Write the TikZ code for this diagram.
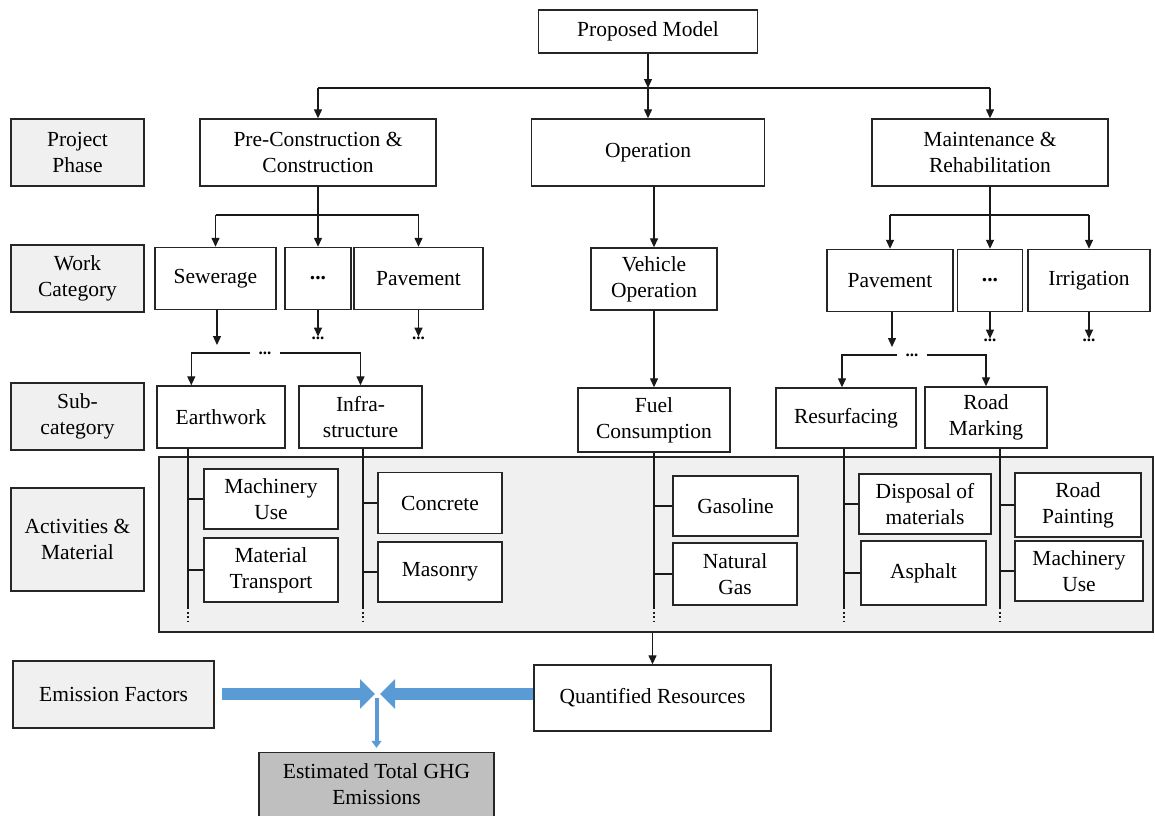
\documentclass[tikz,border=0pt]{standalone}
\usepackage{fontspec}
\setmainfont{Liberation Serif}
\usetikzlibrary{arrows.meta,positioning,calc}
\definecolor{boxgray}{RGB}{240,240,240}
\definecolor{boxdark}{RGB}{191,191,191}
\definecolor{flowblue}{RGB}{91,155,213}

\begin{document}
\begin{tikzpicture}[x=1pt, y=-1pt,
  box/.style={draw=black!85, line width=1.4pt, fill=white, align=center, inner sep=2pt, font=\fontsize{21.5}{26}\selectfont},
  lbl/.style={box, fill=boxgray},
  sz/.style 2 args={minimum width=#1pt, minimum height=#2pt},
  ln/.style={line width=1.3pt, draw=black!90},
  arr/.style={ln, -{Triangle[length=9pt,width=8pt]}},
  dotmark/.style={font=\fontsize{17}{17}\selectfont\bfseries, inner sep=0pt},
  fatarrow/.style={line width=12pt, draw=flowblue, -{Triangle[length=15pt,width=29pt]}},
  thinarrow/.style={line width=4pt, draw=flowblue, -{Triangle[length=7pt,width=10pt]}},
]
\useasboundingbox (0,0) rectangle (1155,815);

% row labels
\node[lbl, sz={133}{67}] (rphase) at (77.5,152.5) {Project\\Phase};
\node[lbl, sz={133}{67}] (rwork) at (77.5,278.5) {Work\\Category};
\node[lbl, sz={133}{67}] (rsub) at (77.5,416.5) {Sub-\\category};
\node[lbl, sz={133}{103}] (ract) at (77.5,539.5) {Activities \&\\Material};

% phases
\node[box, sz={219}{43}] (pm) at (648,31.5) {Proposed Model};
\node[box, sz={236}{67}] (pc) at (318,152.5) {Pre-Construction \&\\Construction};
\node[box, sz={233}{67}] (op) at (648,152.5) {Operation};
\node[box, sz={236}{67}] (mr) at (990,152.5) {Maintenance \&\\Rehabilitation};
\coordinate (top) at (648,88);
\draw[arr] (pm.south) -- (top);
\draw[ln] (pc.north |- top) -- (mr.north |- top);
\foreach \n in {pc,op,mr} \draw[arr] (\n.north |- top) -- (\n.north);

% work categories
\node[box, sz={121}{62}] (sew) at (215.5,278.5) {Sewerage};
\node[box, sz={66}{62}] (d1) at (318,278.5) {\textbf{...}};
\node[box, sz={129}{62}] (pav) at (418.5,278.5) {Pavement};
\node[box, sz={126}{62}] (veh) at (654,279) {Vehicle\\Operation};
\node[box, sz={126}{62}] (mpav) at (890,280.5) {Pavement};
\node[box, sz={65}{62}] (md) at (990,280.5) {\textbf{...}};
\node[box, sz={122}{62}] (irr) at (1089,280.5) {Irrigation};
\coordinate (pcj) at (318,215);
\coordinate (mrj) at (990,215);
\draw[ln] (pc.south) -- (pcj);
\draw[ln] (sew.north |- pcj) -- (pav.north |- pcj);
\foreach \n in {sew,d1,pav} \draw[arr] (\n.north |- pcj) -- (\n.north);
\draw[ln] (mr.south) -- (mrj);
\draw[ln] (mpav.north |- mrj) -- (irr.north |- mrj);
\foreach \n in {mpav,md,irr} \draw[arr] (\n.north |- mrj) -- (\n.north);
\draw[arr] (veh.north |- op.south) -- (veh.north);

% open ends
\foreach \n in {d1,pav,md,irr} {
  \node[dotmark] (\n x) at ($(\n.south)+(0,28)$) {...};
  \draw[arr] (\n.south) -- (\n x.north);
}
\coordinate (sewend) at (217,345);
\coordinate (mpavend) at (892,347);
\draw[arr] (sew.south -| sewend) -- (sewend);
\draw[arr] (mpav.south -| mpavend) -- (mpavend);

% sub-categories
\node[box, sz={128}{62}] (ew) at (221,417) {Earthwork};
\node[box, sz={123}{62}] (inf) at (360.5,417) {Infra-\\structure};
\node[box, sz={152}{64}] (fuel) at (654,420) {Fuel\\Consumption};
\node[box, sz={140}{60}] (res) at (846,418) {Resurfacing};
\node[box, sz={122}{61}] (rm) at (986,417.5) {Road\\Marking};
\node[dotmark, inner xsep=8pt] (sdots) at (265,353) {...};
\node[dotmark, inner xsep=8pt] (rdots) at (912,355) {...};
\draw[arr] (sdots.west) -| ([xshift=35pt]ew.north west);
\draw[arr] (sdots.east) -| (inf.north);
\draw[arr] (rdots.west) -| ([xshift=-4pt]res.north);
\draw[arr] (rdots.east) -| (rm.north);
\draw[arr] (veh.south) -- (fuel.north);

% activities and material
\node[draw=black!85, line width=1.4pt, fill=boxgray, sz={994}{175}] (act) at (656,544.5) {};
\foreach \s/\x/\n in {ew/188/a, inf/363/b, fuel/654/c, res/844/d, rm/1000/e} {
  \draw[ln] (\x,0 |- \s.south) -- (\x,607) coordinate (sp\n);
  \draw[ln, dash pattern=on 2pt off 2.5pt] (sp\n) -- ++(0,14);
}
\node[box, sz={134}{60}] (mu1) at (271,499) {Machinery\\Use};
\node[box, sz={134}{64}] (mt) at (271,570) {Material\\Transport};
\node[box, sz={124}{61}] (con) at (440,503) {Concrete};
\node[box, sz={124}{60}] (mas) at (440,572) {Masonry};
\node[box, sz={125}{60}] (gas) at (735.5,506) {Gasoline};
\node[box, sz={124}{62}] (ng) at (735,574) {Natural\\Gas};
\node[box, sz={132}{60}] (dis) at (925,504) {Disposal of\\materials};
\node[box, sz={125}{64}] (asp) at (923.5,573) {Asphalt};
\node[box, sz={126}{64}] (rp) at (1078,505) {Road\\Painting};
\node[box, sz={128}{60}] (mu2) at (1079,571) {Machinery\\Use};
\foreach \b/\x in {mu1/188, mt/188, con/363, mas/363, gas/654, ng/654, dis/844, asp/844, rp/1000, mu2/1000}
  \draw[ln] (\x,0 |- \b.west) -- (\b.west);

% emissions
\node[lbl, sz={201}{67}] (ef) at (113.5,694.5) {Emission Factors};
\node[box, sz={237}{66}] (qr) at (652.5,698) {Quantified Resources};
\node[box, fill=boxdark, sz={235}{64}] (est) at (376.5,784.5) {Estimated Total GHG\\Emissions};
\draw[arr] (qr.north |- act.south) -- (qr.north);
\coordinate (meetl) at (375,694);
\coordinate (meetr) at (380,694);
\draw[fatarrow] ([xshift=7pt]ef.east |- meetl) -- (meetl);
\draw[fatarrow] (qr.west |- meetr) -- (meetr);
\draw[thinarrow, shorten >=4pt] (est.north |- 0,698) -- (est.north);
\end{tikzpicture}
\end{document}
